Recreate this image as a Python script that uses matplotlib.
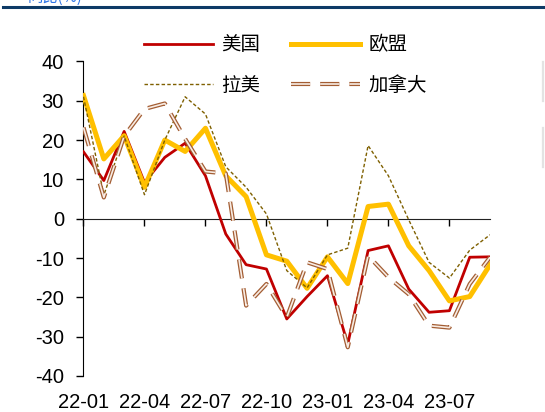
import matplotlib
matplotlib.use("Agg")
import matplotlib.pyplot as plt
import matplotlib.patheffects as pe
from matplotlib.lines import Line2D

months = ["22-01", "22-02", "22-03", "22-04", "22-05", "22-06", "22-07",
          "22-08", "22-09", "22-10", "22-11", "22-12", "23-01", "23-02",
          "23-03", "23-04", "23-05", "23-06", "23-07", "23-08", "23-09"]

us = [17.0, 9.7, 22.2, 9.2, 15.6, 19.2, 10.9, -3.9, -11.7, -12.8, -25.5,
      -19.8, -14.5, -31.9, -8.1, -6.9, -17.9, -23.8, -23.4, -9.8, -9.7]
eu = [31.3, 15.2, 21.1, 8.0, 20.0, 17.1, 23.0, 10.9, 5.6, -9.2, -10.8,
      -17.7, -9.7, -16.5, 3.1, 3.7, -6.9, -13.2, -20.9, -19.8, -11.7]
latam = [31.0, 6.0, 21.0, 6.1, 20.0, 31.0, 26.6, 13.2, 8.0, 1.2, -13.2,
         -17.6, -9.2, -7.5, 18.6, 10.9, -0.3, -11.1, -15.1, -8.0, -4.1]
canada = [23.2, 5.4, 21.0, 27.9, 29.3, 20.3, 12.0, 11.5, -22.1, -16.6, -25.1,
          -11.1, -12.8, -32.7, -9.4, -14.9, -19.2, -27.2, -27.7, -16.6, -9.8]

tick_idx = list(range(0, len(months), 3))
tick_labels = [months[i] for i in tick_idx]
yticks = [40, 30, 20, 10, 0, -10, -20, -30, -40]

plt.rcParams['font.family'] = ['Liberation Sans', 'DejaVu Sans']
plt.rcParams['axes.unicode_minus'] = False

fig = plt.figure(figsize=(5.45, 4.12), dpi=100)
ax = fig.add_axes([0.1532, 0.0874, 0.746, 0.7636])

x = list(range(len(months)))
l_us, = ax.plot(x, us, color='#C00000', lw=2.0, label='美国', zorder=3)
l_eu, = ax.plot(x, eu, color='#FFC000', lw=3.6, label='欧盟', zorder=3)
l_la, = ax.plot(x, latam, color='#7F6000', lw=1.0, linestyle=(0, (2.5, 1.6)),
                label='拉美', zorder=3)
l_ca, = ax.plot(x, canada, color='#F8ECE4', lw=1.2,
                linestyle=(0, (11.5, 6.0)), label='加拿大', zorder=4,
                path_effects=[pe.Stroke(linewidth=3.0, foreground='#A35D33'),
                              pe.Normal()])

ax.set_xlim(0, len(months) - 1)
ax.set_ylim(-40, 40)
ax.set_yticks(yticks)
ax.tick_params(axis='y', direction='out', length=5, width=1, pad=9,
               labelsize=14.5)

# x axis line sits at zero, labels go under the plot
ax.spines['top'].set_visible(False)
ax.spines['right'].set_visible(False)
ax.spines['bottom'].set_position(('data', 0))
ax.spines['bottom'].set_color('#222222')
ax.set_xticks(tick_idx)
ax.tick_params(axis='x', direction='out', length=5, width=1, labelbottom=False)

secax = ax.secondary_xaxis('bottom')
secax.spines['bottom'].set_visible(False)
secax.set_xticks(tick_idx)
secax.set_xticklabels(tick_labels)
secax.tick_params(length=0, pad=12.5, labelsize=14.5)

# legend fills column by column, so order gives rows 美国/欧盟 and 拉美/加拿大
handles = [l_us, l_la, l_eu, l_ca]
fig.legend(handles, [h.get_label() for h in handles],
           loc='center left', bbox_to_anchor=(0.246, 0.842), ncol=2,
           frameon=False, borderpad=0, handlelength=3.55,
           handletextpad=0.45, columnspacing=1.55, labelspacing=1.0,
           prop={'family': ['Noto Sans CJK SC'], 'size': 14})

# header rule and caption above the chart
fig.add_artist(Line2D([0.005, 1.0], [1 - 7 / 412, 1 - 7 / 412],
                      color='#0D3A66', lw=2.2))
fig.text(0.05, 1 - 2 / 412, '同比(%)', color='#2E75E6', fontsize=11,
         family=['Noto Sans CJK SC'], va='baseline')
fig.add_artist(Line2D([543 / 545, 543 / 545], [1 - 62 / 412, 1 - 101 / 412],
                      color='#E3E3E3', lw=1.6))
fig.add_artist(Line2D([543 / 545, 543 / 545], [1 - 128 / 412, 1 - 167 / 412],
                      color='#E3E3E3', lw=1.6))

fig.savefig('out.png', dpi=100)
